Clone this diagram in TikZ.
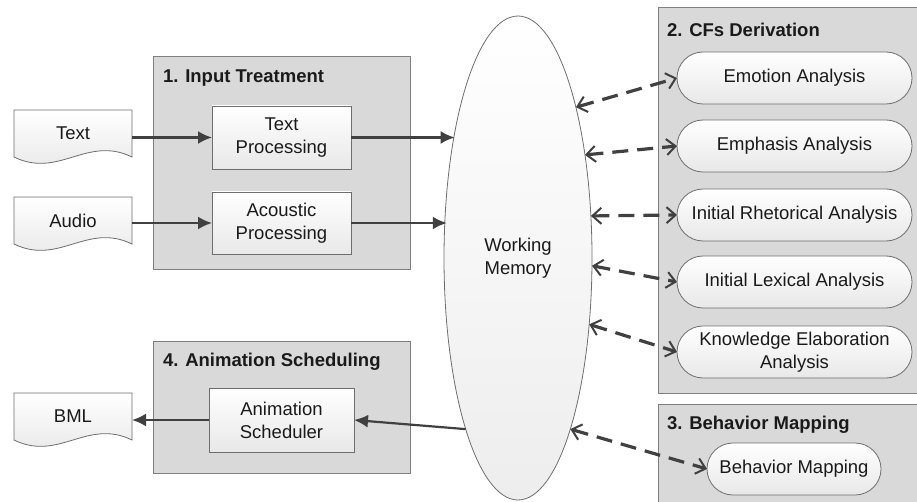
\documentclass[tikz,border=0pt]{standalone}
\usepackage{fontspec}
\setmainfont{Liberation Sans}
\usetikzlibrary{arrows.meta,backgrounds,calc,shapes.geometric}
\definecolor{grpfill}{HTML}{D9D9D9}
\definecolor{grpline}{HTML}{7F7F7F}
\definecolor{boxline}{HTML}{6E6E6E}
\definecolor{arrowc}{HTML}{404040}
\definecolor{txtc}{HTML}{1A1A1A}
\begin{document}
\begin{tikzpicture}[x=1pt,y=-1pt,
  every node/.style={font=\fontsize{18.5}{23}\selectfont, text=txtc, inner sep=0pt, outer sep=0pt},
  group/.style={draw=grpline, fill=grpfill, line width=1pt, anchor=north west},
  grouplabel/.style={font=\fontsize{18.5}{23}\selectfont\bfseries, anchor=west},
  procbox/.style={draw=boxline, line width=0.8pt, top color=white, bottom color=black!9, align=center},
  pill/.style={draw=boxline, line width=0.8pt, top color=white, bottom color=black!9, rounded corners=26pt, minimum height=52pt, align=center},
  docnode/.style={minimum width=118pt, minimum height=47pt, anchor=north west},
  docshape/.style={draw=boxline, line width=0.8pt, top color=white, bottom color=black!10},
  solidarrow/.style={draw=arrowc, line width=2.2pt, -{Latex[length=14pt,width=13pt]}},
  dasharrow/.style={draw=arrowc, line width=3.2pt, dash pattern=on 16pt off 9pt, {Straight Barb[length=9pt,width=16pt,line width=2pt]}-{Straight Barb[length=9pt,width=16pt,line width=2pt]}}
]
\useasboundingbox (0,0) rectangle (917,502);

% group boxes
\node[group, minimum width=257pt, minimum height=213pt] (g1) at (153,57) {};
\node[group, minimum width=272pt, minimum height=385pt] (g2) at (658,8) {};
\node[group, minimum width=272pt, minimum height=120pt] (g3) at (658,404) {};
\node[group, minimum width=257pt, minimum height=132pt] (g4) at (153,341) {};
\node[grouplabel] (l1) at (163,78) {1. Input Treatment};
\node[grouplabel] (l2) at (667,30) {2. CFs Derivation};
\node[grouplabel] (l3) at (667,425) {3. Behavior Mapping};
\node[grouplabel] (l4) at (163,362) {4. Animation Scheduling};

% working memory
\node[draw=boxline, line width=0.8pt, ellipse, top color=white, bottom color=black!7, minimum width=148pt, minimum height=484pt, align=center] (wm) at (518,258) {Working\\Memory};

% documents
\node[docnode] (dtext) at (14,110) {Text};
\node[docnode] (daudio) at (14,197) {Audio};
\node[docnode] (dbml) at (14,393) {BML};
\begin{scope}[on background layer]
\foreach \d in {dtext,daudio,dbml}{
  \draw[docshape] (\d.north west) -- (\d.north east) -- (\d.south east)
     .. controls +(-45,-22) and +(45,22) .. (\d.south west) -- cycle;
}
\end{scope}

% processing boxes
\node[procbox, minimum width=139pt, minimum height=63pt] (tp) at (281.5,137.5) {Text\\Processing};
\node[procbox, minimum width=139pt, minimum height=62pt] (ap) at (281.5,223) {Acoustic\\Processing};
\node[procbox, minimum width=145pt, minimum height=64pt] (as) at (281.5,420) {Animation\\Scheduler};

% analysis pills
\node[pill, minimum width=235pt] (e1) at (794.5,78) {Emotion Analysis};
\node[pill, minimum width=235pt] (e2) at (794.5,146) {Emphasis Analysis};
\node[pill, minimum width=235pt] (e3) at (794.5,215) {Initial Rhetorical Analysis};
\node[pill, minimum width=235pt] (e4) at (794.5,282) {Initial Lexical Analysis};
\node[pill, minimum width=235pt] (e5) at (794.5,352) {Knowledge Elaboration\\Analysis};
\node[pill, minimum width=174pt] (bm) at (794,469) {Behavior Mapping};

% solid arrows
\draw[solidarrow] (dtext.east |- tp.west) -- (tp.west);
\draw[solidarrow] (daudio.east |- ap.west) -- (ap.west);
\draw[solidarrow] (tp.east) -- ([xshift=2pt]tp.east -| wm.120);
\draw[solidarrow] (ap.east) -- ([xshift=2pt]ap.east -| wm.154.4);
\draw[solidarrow] (wm.253.5) -- (as.east);
\draw[solidarrow] (as.west) -- (dbml.east |- as.west);

% dashed arrows
\draw[dasharrow] (wm.69.3) -- (e1.west);
\draw[dasharrow] (wm.57.2) -- (e2.west);
\draw[dasharrow] (wm.30.2) -- (e3.west);
\draw[dasharrow] (wm.-6.9) -- (e4.west);
\draw[dasharrow] (wm.-43.7) -- (e5.west);
\draw[dasharrow] (wm.-73) -- (bm.west);
\end{tikzpicture}
\end{document}
